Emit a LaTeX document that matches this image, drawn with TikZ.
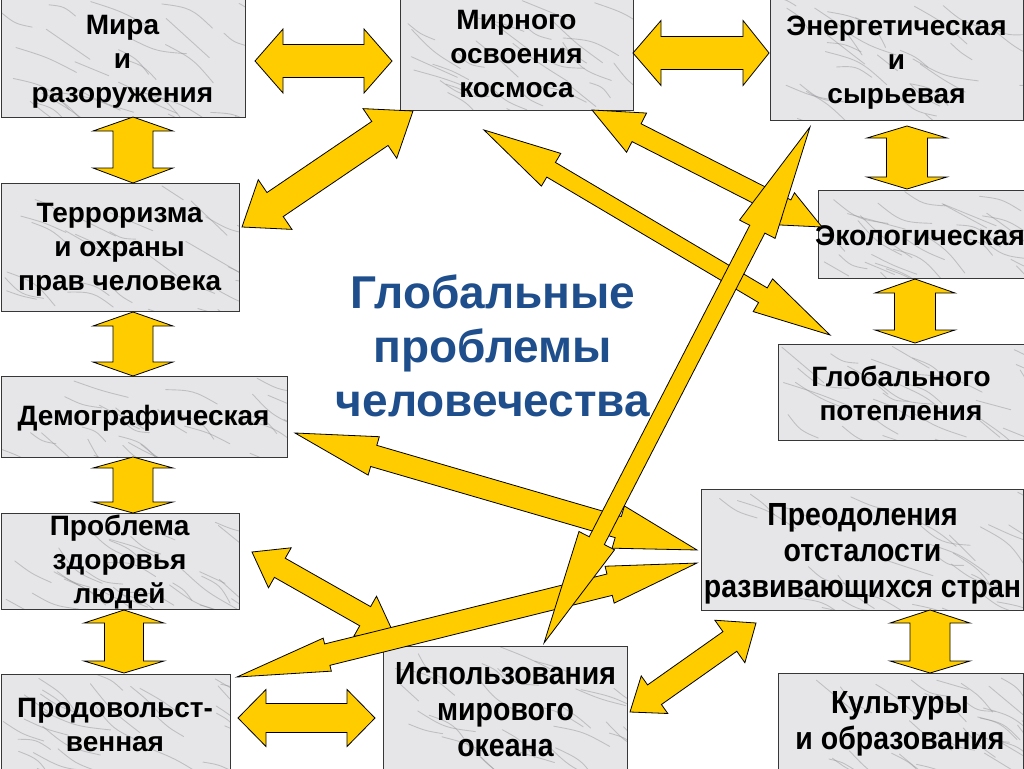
\documentclass[tikz,border=0pt]{standalone}
\usepackage{fontspec}
\setmainfont{Liberation Sans}
\newfontfamily\narrowfont[FakeStretch=0.89]{Liberation Sans}
\usetikzlibrary{calc}

\definecolor{arrowyellow}{RGB}{255,204,0}
\definecolor{titleblue}{RGB}{31,78,140}
\definecolor{marble}{RGB}{230,230,232}
\definecolor{boxline}{RGB}{55,55,55}
\definecolor{vein}{RGB}{145,145,150}

\pgfmathsetseed{11}

\tikzset{
  veinstroke/.style={draw=vein, line width=0.9pt, opacity=0.45, line cap=round},
  box/.style={draw=boxline, line width=1.3pt, fill=marble, inner sep=0pt,
    anchor=north west,
    path picture={%
      \foreach \k in {1,...,28}{%
        \draw[veinstroke] let \p1=(path picture bounding box.south west),
          \p2=(path picture bounding box.north east),
          \n1={\x1+rnd*(\x2-\x1)}, \n2={\y1+rnd*(\y2-\y1)},
          \n3={15+rnd*30}, \n4={25+rnd*45}, \n5={rnd*40-20} in
          (\n1,\n2) .. controls +(\n3+\n5:\n4/2) and +(\n3+180-\n5:\n4/2) .. +(\n3:\n4);
      }}},
  boxtext/.style={align=center, inner sep=0pt,
    font=\fontsize{28}{34}\selectfont\bfseries},
  narrowtext/.style={boxtext, font=\narrowfont\fontsize{32}{36}\selectfont\bfseries},
  arrowstyle/.style={draw=black, line width=0.8pt, fill=arrowyellow, line join=miter},
  titletext/.style={align=center, text=titleblue,
    font=\fontsize{46}{54}\selectfont\bfseries},
}

% #1 from, #2 to, #3 shaft half width, #4 head half width (start), #5 head length (start),
% #6 head half width (end), #7 head length (end)
\newcommand{\dblarrow}[7]{%
  \path let \p1=(#1), \p2=(#2) in \pgfextra{%
    \pgfmathsetmacro{\arrang}{atan2(\y2-\y1,\x2-\x1)}%
    \pgfmathsetmacro{\arrlen}{veclen(\x2-\x1,\y2-\y1)}%
    \xdef\arrAng{\arrang}\xdef\arrLen{\arrlen}%
    \xdef\arrX{\x1}\xdef\arrY{\y1}};
  \draw[arrowstyle, shift={(\arrX,\arrY)}, rotate=\arrAng]
    (0,0) -- (#5,#4) -- (#5,#3) -- (\arrLen-#7,#3) -- (\arrLen-#7,#6)
    -- (\arrLen,0) -- (\arrLen-#7,-#6) -- (\arrLen-#7,-#3) -- (#5,-#3)
    -- (#5,-#4) -- cycle;
}

\begin{document}
\begin{tikzpicture}[x=1pt,y=-1pt]
\useasboundingbox (0,0) rectangle (1024,768);
\fill[white] (0,0) rectangle (1024,768);

% boxes
\node[box, minimum width=244pt, minimum height=120pt] (mira) at (0.6,-3) {};
\node[box, minimum width=233pt, minimum height=113pt] (kosmos) at (400,-3) {};
\node[box, minimum width=253pt, minimum height=123pt] (energy) at (770,-3) {};
\node[box, minimum width=238pt, minimum height=128pt] (terror) at (0.6,183) {};
\node[box, minimum width=210pt, minimum height=88pt] (eco) at (818,190) {};
\node[box, minimum width=250pt, minimum height=96pt] (warm) at (778,344) {};
\node[box, minimum width=286pt, minimum height=81pt] (demo) at (0.6,376) {};
\node[box, minimum width=238pt, minimum height=96pt] (health) at (0.6,513) {};
\node[box, minimum width=229pt, minimum height=98pt] (food) at (0.6,674) {};
\node[box, minimum width=244pt, minimum height=126pt] (ocean) at (383,646) {};
\node[box, minimum width=322pt, minimum height=121pt] (develop) at (701,489) {};
\node[box, minimum width=245pt, minimum height=99pt] (culture) at (778,673) {};

% box texts
\node[boxtext] (miraT) at (122.5,62) {Мира\\и\\разоружения};
\node[boxtext] (kosmosT) at (516.5,54) {Мирного\\освоения\\космоса};
\node[boxtext] (energyT) at (896.5,63) {Энергетическая\\и\\сырьевая};
\node[boxtext] (terrorT) at (119.6,250) {Терроризма\\и охраны\\прав человека};
\node[boxtext, font=\fontsize{28.5}{34}\selectfont\bfseries] (ecoT) at (920,236) {Экологическая};
\node[boxtext] (warmT) at (901,393) {Глобального\\потепления};
\node[boxtext] (demoT) at (143.5,418.5) {Демографическая};
\node[boxtext] (healthT) at (119.6,562.5) {Проблема\\здоровья\\людей};
\node[boxtext] (foodT) at (115,725) {Продовольст-\\венная};
\node[narrowtext] (oceanT) at (505.5,710) {Использования\\мирового\\океана};
\node[narrowtext] (developT) at (862.5,554) {Преодоления\\отсталости\\развивающихся стран};
\node[narrowtext] (cultureT) at (900,724) {Культуры\\и образования};

% title
\node[titletext] (title) at (493,346) {Глобальные\\проблемы\\человечества};

% arrow end points
\coordinate (a1) at (255,61);   \coordinate (a2) at (392,61);
\coordinate (b1) at (633,53);   \coordinate (b2) at (769,53);
\coordinate (c1) at (133,117);  \coordinate (c2) at (133,183);
\coordinate (d1) at (133,312);  \coordinate (d2) at (133,376);
\coordinate (e1) at (133,457);  \coordinate (e2) at (133,513);
\coordinate (f1) at (124,610);  \coordinate (f2) at (124,673);
\coordinate (g1) at (238,718);  \coordinate (g2) at (375,718);
\coordinate (h1) at (907,126);  \coordinate (h2) at (907,189);
\coordinate (i1) at (915,279);  \coordinate (i2) at (915,343);
\coordinate (j1) at (930,610);  \coordinate (j2) at (930,673);
\coordinate (k1) at (242,227);  \coordinate (k2) at (413,111);
\coordinate (l1) at (484,130);  \coordinate (l2) at (830,335);
\coordinate (m1) at (592,110);  \coordinate (m2) at (822,227);
\coordinate (n1) at (810,127);  \coordinate (n2) at (544,643);
\coordinate (o1) at (295,433);  \coordinate (o2) at (697,550);
\coordinate (p1) at (252,552);  \coordinate (p2) at (393,632);
\coordinate (q1) at (237,677);  \coordinate (q2) at (697,563);
\coordinate (r1) at (630,712);  \coordinate (r2) at (756,623);

% straight block arrows between neighbours
\dblarrow{a1}{a2}{16.5}{32}{28}{32}{28}
\dblarrow{b1}{b2}{16.5}{32.5}{28}{32.5}{26}
\dblarrow{c1}{c2}{20}{40}{14}{40}{15}
\dblarrow{d1}{d2}{20}{40}{14}{40}{14}
\dblarrow{e1}{e2}{20}{40}{11}{40}{11}
\dblarrow{f1}{f2}{19.5}{40}{13}{40}{12}
\dblarrow{g1}{g2}{14.5}{28.5}{28}{28.5}{28}
\dblarrow{h1}{h2}{20.5}{40}{12}{40}{12}
\dblarrow{i1}{i2}{20.5}{40}{14}{40}{13}
\dblarrow{j1}{j2}{20}{40}{13}{40}{12}

% diagonal arrows
\dblarrow{k1}{k2}{14.5}{30}{40}{30}{40}
\dblarrow{l1}{l2}{8.5}{19}{78}{19}{78}
\dblarrow{m1}{m2}{10}{22}{50}{18}{40}
\dblarrow{o1}{o2}{11}{20}{82}{22}{82}
\dblarrow{p1}{p2}{11}{23}{32}{23}{32}
\dblarrow{q1}{q2}{11}{17}{93}{19}{90}
\dblarrow{n1}{n2}{8.5}{20}{115}{20}{115}
\dblarrow{r1}{r2}{12}{23}{30}{26}{32}
\end{tikzpicture}
\end{document}
